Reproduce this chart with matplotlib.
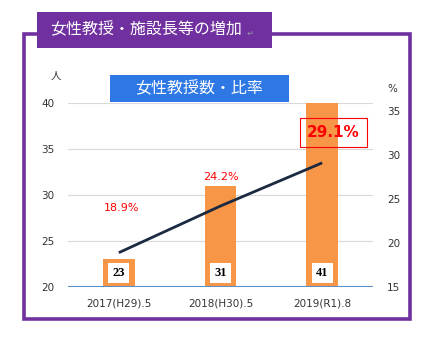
import matplotlib.pyplot as plt
from matplotlib.patches import Rectangle

plt.rcParams['font.family'] = ['DejaVu Sans', 'Noto Sans CJK JP']
cjk = ['Noto Sans CJK JP', 'DejaVu Sans']

years = ["2017(H29).5", "2018(H30).5", "2019(R1).8"]
professors = [23, 31, 41]
ratio = [18.9, 24.2, 29.1]
ratio_labels = ["18.9%", "24.2%", "29.1%"]

fig = plt.figure(figsize=(4.30, 3.38), dpi=100)

# purple frame + header
fig.patches.append(Rectangle((24 / 430, 1 - 319 / 338), 386 / 430, 285 / 338,
                             transform=fig.transFigure, fill=False,
                             edgecolor="#7030A0", linewidth=2.6))
fig.patches.append(Rectangle((37 / 430, 1 - 48 / 338), 235 / 430, 36 / 338,
                             transform=fig.transFigure, facecolor="#7030A0",
                             edgecolor="none"))
fig.text(50 / 430, 1 - 30 / 338, "女性教授・施設長等の増加", color="white",
         fontsize=11.5, family=cjk, va="center", ha="left")
fig.text(247 / 430, 1 - 33 / 338, "↵", color="#999999", fontsize=6,
         va="center", ha="left")

ax = fig.add_axes([68 / 430, 1 - 287 / 338, 305 / 430, 184 / 338])
ax2 = ax.twinx()

x = range(len(years))
ax.bar(x, professors, width=0.31, bottom=0, color="#F79646", zorder=2)
ax.set_ylim(20, 40)
ax.set_xlim(-0.5, 2.5)
ax.set_yticks([20, 25, 30, 35, 40])
ax.set_xticks(list(x))
ax.set_xticklabels(years, fontsize=7.5, color="#333333")
ax.tick_params(axis="both", length=0, labelsize=7.5, colors="#333333")
ax.tick_params(axis="x", pad=8)
ax.tick_params(axis="y", pad=10)
ax.grid(axis="y", color="#D9D9D9", linewidth=0.8, zorder=0)
ax.axhline(20, color="#5B8FCB", linewidth=1.5, zorder=3)
for s in ax.spines.values():
    s.set_visible(False)

for i, v in enumerate(professors):
    ax.text(i, 21.5, str(v), ha="center", va="center", fontsize=9,
            fontweight="bold", family="Liberation Serif", zorder=4,
            bbox=dict(facecolor="white", edgecolor="none", pad=3))

ax2.plot(list(x), ratio, color="#1B2A41", linewidth=2, zorder=5,
         solid_capstyle="butt")
ax2.set_ylim(15, 35.9)
ax2.set_yticks([15, 20, 25, 30, 35])
ax2.tick_params(axis="y", length=0, labelsize=7.5, colors="#333333", pad=10)
for s in ax2.spines.values():
    s.set_visible(False)

offsets = [(2, 32), (0, 21), (8, 22)]
for i, (v, lab) in enumerate(zip(ratio, ratio_labels)):
    if i == 2:
        ax2.annotate(lab, (i, v), xytext=offsets[i], textcoords="offset points",
                     ha="center", va="center", color="red", fontsize=11,
                     fontweight="bold",
                     bbox=dict(facecolor="none", edgecolor="red",
                               linewidth=0.8, boxstyle="square,pad=0.45"))
    else:
        ax2.annotate(lab, (i, v), xytext=offsets[i], textcoords="offset points",
                     ha="center", va="center", color="red", fontsize=8)

# chart title box
fig.patches.append(Rectangle((110 / 430, 1 - 102 / 338), 179 / 430, 27 / 338,
                             transform=fig.transFigure, facecolor="#2E78E6",
                             edgecolor="none", zorder=10))
fig.text(199 / 430, 1 - 89 / 338, "女性教授数・比率", color="white",
         fontsize=11.5, family=cjk, va="center", ha="center", zorder=11)

fig.text(56 / 430, 1 - 76 / 338, "人", fontsize=7.5, family=cjk,
         ha="center", va="center", color="#333333")
fig.text(392 / 430, 1 - 89 / 338, "%", fontsize=7.5, ha="center",
         va="center", color="#333333")

fig.savefig("out.png", dpi=100)
